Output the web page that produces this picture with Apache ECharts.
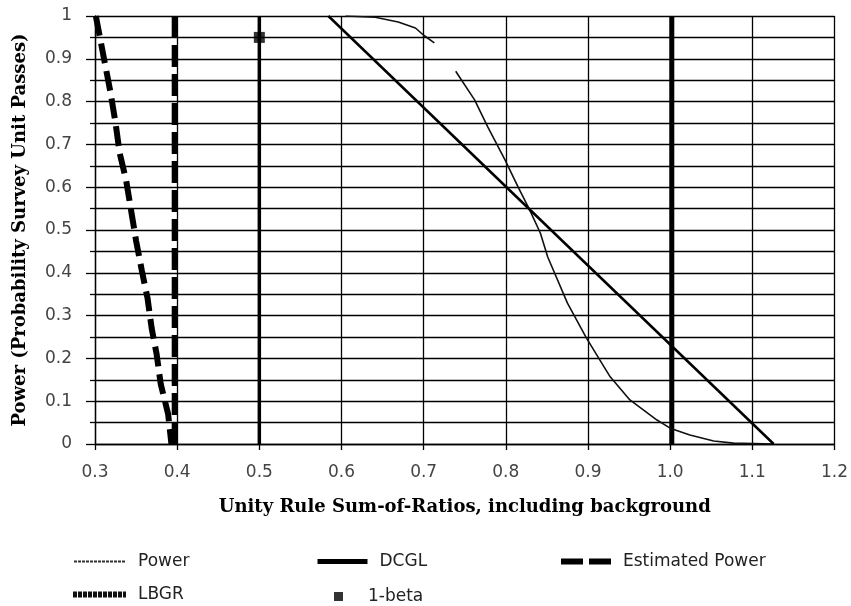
<!DOCTYPE html>
<html><head><meta charset="utf-8">
<script src="https://cdn.jsdelivr.net/npm/echarts@6/dist/echarts.min.js"></script>
<style>html,body{margin:0;padding:0;background:#fff}#c{width:851px;height:606px}</style>
</head><body><div id="c"></div>
<script>
// ---- data ----
const xTickLabels = ['0.3','0.4','0.5','0.6','0.7','0.8','0.9','1.0','1.1','1.2'];
const yTickLabels = ['0','0.1','0.2','0.3','0.4','0.5','0.6','0.7','0.8','0.9','1'];

// Power curve (thin), upper piece and lower piece
const powerUpperX = [0.605,0.641,0.669,0.690,0.700,0.713];
const powerUpperY = [1.000,0.997,0.986,0.972,0.955,0.937];
const powerLowerX = [0.739,0.762,0.778,0.799,0.815,0.829,0.842,0.851,0.875,0.898,0.927,0.951,0.984,1.000,1.024,1.053,1.077,1.126];
const powerLowerY = [0.871,0.804,0.741,0.664,0.600,0.547,0.493,0.437,0.329,0.248,0.157,0.103,0.056,0.037,0.021,0.007,0.002,0.000];

// straight descending line
const linearX = [0.584,1.126];
const linearY = [1.000,0.000];

// Estimated Power (thick dashed curve on the left)
const estX = [0.301,0.307,0.312,0.319,0.325,0.330,0.338,0.344,0.350,0.357,0.364,0.369,0.375,0.380,0.389,0.393];
const estY = [1.000,0.940,0.890,0.820,0.750,0.680,0.615,0.545,0.475,0.405,0.340,0.270,0.210,0.140,0.070,0.000];

// vertical reference lines
const lbgrX = [0.397,0.397];  const lbgrY = [0,1];
const grayX = [0.500,0.500];  const grayY = [0,1];
const dcglX = [1.002,1.002];  const dcglY = [0,1];

// 1-beta marker
const betaX = [0.5];
const betaY = [0.95];

const pairs = (xs, ys) => xs.map((x, i) => [x, ys[i]]);

const sans = 'DejaVu Sans';
const serif = 'DejaVu Serif';
const titleStyle = {fontFamily: serif, fontWeight: 'bold', fontSize: 18, color: '#000'};
const legendText = {fontFamily: sans, fontSize: 17, color: '#222', padding: [0,0,0,7]};
const noSymbol = {color: 'transparent', borderColor: 'transparent', borderWidth: 0};

function lg(name, left, top, w, h, lineStyle, extra) {
  return Object.assign({
    data: [name], left: left, top: top, itemWidth: w, itemHeight: h, padding: 0,
    textStyle: legendText, lineStyle: lineStyle, itemStyle: noSymbol, selectedMode: false
  }, extra || {});
}

const chart = echarts.init(document.getElementById('c'), null, {renderer: 'canvas'});
chart.setOption({
  backgroundColor: '#fff',
  animation: false,
  grid: {left: 95, right: 14, top: 16, bottom: 162, containLabel: false},
  xAxis: {
    type: 'value', min: 0.3, max: 1.2, interval: 0.1,
    name: 'Unity Rule Sum-of-Ratios, including background',
    nameLocation: 'middle', nameGap: 54, nameTextStyle: titleStyle,
    axisLine: {show: true, lineStyle: {color: '#000', width: 1.3}},
    axisTick: {show: true, length: 6, lineStyle: {color: '#000', width: 1.3}},
    axisLabel: {
      formatter: v => xTickLabels[Math.round((v - 0.3) * 10)] || '',
      color: '#444', fontSize: 17, fontFamily: sans, margin: 20
    },
    splitLine: {show: true, lineStyle: {color: '#000', width: 1.3}}
  },
  yAxis: {
    type: 'value', min: 0, max: 1, interval: 0.1,
    name: 'Power (Probability Survey Unit Passes)',
    nameLocation: 'middle', nameGap: 66, nameTextStyle: titleStyle,
    axisLine: {show: true, lineStyle: {color: '#000', width: 1.3}},
    axisTick: {show: true, length: 9, lineStyle: {color: '#000', width: 1.3}},
    minorTick: {show: true, splitNumber: 2, length: 5, lineStyle: {color: '#000', width: 1.3}},
    axisLabel: {
      formatter: v => yTickLabels[Math.round(v * 10)] || '',
      color: '#444', fontSize: 17, fontFamily: sans, margin: 23
    },
    splitLine: {show: true, lineStyle: {color: '#000', width: 1.3}},
    minorSplitLine: {show: true, lineStyle: {color: '#000', width: 1.3}}
  },
  legend: [
    lg('Power', 73, 553, 52, 14, {width: 2, color: '#333', type: [3, 1]}),
    lg('DCGL', 315, 553, 50, 14, {width: 5, color: '#000', type: 'solid'}),
    lg('Estimated Power', 558, 553, 50, 14, {width: 6, color: '#000', type: [22, 6]}),
    lg('LBGR', 70, 586, 53, 14, {width: 6, color: '#111', type: [4, 1]}),
    lg('1-beta', 334, 588, 9, 9, {width: 0}, {
      itemStyle: {color: '#000'},
      textStyle: Object.assign({}, legendText, {padding: [0,0,0,20]})
    })
  ],
  series: [
    {name: 'Power', type: 'line', data: pairs(powerUpperX, powerUpperY), symbol: 'none',
     lineStyle: {color: '#111', width: 1.6}, itemStyle: {color: '#111'}, z: 5},
    {name: 'Power', type: 'line', data: pairs(powerLowerX, powerLowerY), symbol: 'none',
     lineStyle: {color: '#111', width: 1.6}, itemStyle: {color: '#111'}, z: 5},
    {name: 'Power (linear)', type: 'line', data: pairs(linearX, linearY), symbol: 'none',
     lineStyle: {color: '#000', width: 2.5}, z: 5},
    {name: 'DCGL', type: 'line', data: pairs(dcglX, dcglY), symbol: 'none',
     lineStyle: {color: '#000', width: 5}, itemStyle: {color: '#000'}, z: 4},
    {name: 'Estimated Power', type: 'line', data: pairs(estX, estY), symbol: 'none',
     lineStyle: {color: '#000', width: 6, type: [20, 8]}, itemStyle: {color: '#000'}, z: 4},
    {name: 'LBGR', type: 'line', data: pairs(lbgrX, lbgrY), symbol: 'none',
     lineStyle: {color: '#000', width: 6, type: [22, 7]}, itemStyle: {color: '#000'}, z: 4},
    {name: 'Gray region', type: 'line', data: pairs(grayX, grayY), symbol: 'none',
     lineStyle: {color: '#000', width: 3.5}, z: 4},
    {name: '1-beta', type: 'scatter', data: pairs(betaX, betaY), symbol: 'rect', symbolSize: 11,
     itemStyle: {color: '#000'}, z: 6}
  ]
});
</script></body></html>
